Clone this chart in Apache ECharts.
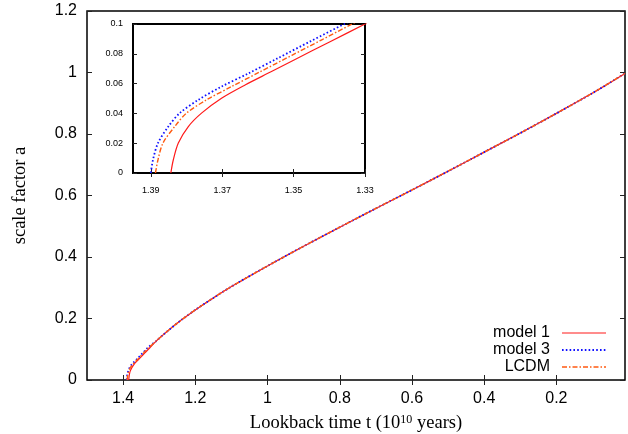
<!DOCTYPE html>
<html>
<head>
<meta charset="utf-8">
<script src="https://cdn.jsdelivr.net/npm/echarts@6/dist/echarts.min.js"></script>
<style>
  html, body { margin: 0; padding: 0; background: #fff; }
  #chart { width: 628px; height: 434px; }
</style>
</head>
<body>
<div id="chart"></div>
<script>
// early rise of each model
var m1Time = [1.3844, 1.3837, 1.3823, 1.3795, 1.3758, 1.3702, 1.3636, 1.3562, 1.3496, 1.3398, 1.33];
var m1Scale = [0, 0.0089, 0.0201, 0.0312, 0.0402, 0.0502, 0.0591, 0.0681, 0.0762, 0.0881, 0.1];
var m3Time = [1.39, 1.3894, 1.388, 1.3851, 1.3819, 1.3767, 1.3702, 1.3627, 1.3543, 1.3452, 1.3358, 1.33];
var m3Scale = [0, 0.0089, 0.0201, 0.0312, 0.0402, 0.0491, 0.058, 0.0668, 0.0772, 0.0885, 0.1, 0.1072];
var lcdmTime = [1.3887, 1.388, 1.3866, 1.3833, 1.38, 1.3744, 1.3674, 1.3594, 1.3505, 1.3421, 1.3336, 1.33];
var lcdmScale = [0, 0.0089, 0.0201, 0.0312, 0.0402, 0.0491, 0.058, 0.0679, 0.079, 0.0894, 0.1, 0.1044];

// after that the three curves sit on top of each other
var tailTime = [1.31, 1.29, 1.27, 1.24, 1.2, 1.15, 1.1, 1.0, 0.9, 0.8, 0.7, 0.6, 0.5, 0.4, 0.3, 0.2, 0.1, 0.01];
var tailScale = [0.125, 0.146, 0.166, 0.194, 0.228, 0.267, 0.304, 0.371, 0.435, 0.497, 0.558, 0.618, 0.679, 0.741, 0.803, 0.867, 0.933, 0.997];

var mainXTicks = [1.4, 1.2, 1.0, 0.8, 0.6, 0.4, 0.2];
var insetXTicks = [1.39, 1.37, 1.35, 1.33];
var names = ['model 1', 'model 3', 'LCDM'];

var SANS = 'Liberation Sans, Arial, sans-serif';
var SERIF = 'Liberation Serif, Times New Roman, serif';

function pairs(t, a) {
  return t.map(function (v, i) { return [v, a[i]]; });
}
var allData = [
  pairs(m1Time.concat(tailTime), m1Scale.concat(tailScale)),
  pairs(m3Time.concat(tailTime), m3Scale.concat(tailScale)),
  pairs(lcdmTime.concat(tailTime), lcdmScale.concat(tailScale))
];

var tickIn = { show: true, inside: true, length: 5, lineStyle: { color: '#222', width: 1 } };
var tickInSmall = { show: true, inside: true, length: 4, lineStyle: { color: '#222', width: 1 } };
function fmt1(v) { return String(+(+v).toFixed(2)); }

var looks = [
  { color: '#ff1a1a', type: 'solid', width: 1.2 },
  { color: '#1010ff', type: [1.6, 2.2], width: 1.8 },
  { color: '#ff5a10', type: [5, 2, 1.5, 2], width: 1.4 }
];

var series = [];
[0, 2].forEach(function (axisIdx) {
  looks.forEach(function (s, i) {
    series.push({
      name: names[i],
      type: 'line',
      xAxisIndex: axisIdx,
      yAxisIndex: axisIdx,
      data: allData[i],
      showSymbol: false,
      symbol: 'none',
      smooth: 0.3,
      clip: true,
      silent: true,
      lineStyle: { color: s.color, type: s.type, width: s.width },
      itemStyle: { color: s.color }
    });
  });
});

// key drawn by hand: text on the left, line sample on the right
var key = [];
names.forEach(function (n, i) {
  var y = 333 + i * 17;
  key.push({
    type: 'text', silent: true,
    style: { text: n, x: 550, y: y, align: 'right', verticalAlign: 'middle', font: '16px ' + SANS, fill: '#000' }
  });
  key.push({
    type: 'line', silent: true,
    shape: { x1: 562, y1: y, x2: 606, y2: y },
    style: { stroke: looks[i].color, lineWidth: looks[i].width, lineDash: looks[i].type === 'solid' ? null : looks[i].type }
  });
});

var chart = echarts.init(document.getElementById('chart'), null, { renderer: 'canvas' });
chart.setOption({
  animation: false,
  backgroundColor: '#fff',
  textStyle: { fontFamily: SANS },
  grid: [
    { left: 87, right: 3, top: 11, bottom: 54, outerBoundsMode: 'none', show: true, borderColor: '#000', borderWidth: 1.5, backgroundColor: 'transparent' },
    { left: 133, right: 263, top: 24, bottom: 261, outerBoundsMode: 'none', show: true, borderColor: '#000', borderWidth: 2, backgroundColor: '#fff' }
  ],
  graphic: key,
  xAxis: [
    {
      gridIndex: 0, type: 'value', inverse: true, min: 0.01, max: 1.5,
      axisLine: { show: false }, splitLine: { show: false },
      axisTick: Object.assign({ customValues: mainXTicks }, tickIn),
      axisLabel: { customValues: mainXTicks, formatter: fmt1, fontFamily: SANS, fontSize: 16, color: '#000', margin: 11 },
      name: 'Lookback time t (10{sup|10} years)',
      nameLocation: 'middle', nameGap: 34,
      nameTextStyle: {
        fontFamily: SERIF, fontSize: 18.5, color: '#000',
        rich: { sup: { fontFamily: SERIF, fontSize: 12, verticalAlign: 'top', color: '#000' } }
      }
    },
    {
      gridIndex: 0, type: 'value', inverse: true, min: 0.01, max: 1.5, position: 'top',
      axisLine: { show: false }, splitLine: { show: false },
      axisTick: Object.assign({ customValues: mainXTicks }, tickIn),
      axisLabel: { show: false, customValues: mainXTicks }
    },
    {
      gridIndex: 1, type: 'value', inverse: true, min: 1.33, max: 1.395,
      axisLine: { show: false }, splitLine: { show: false },
      axisTick: Object.assign({ customValues: insetXTicks }, tickInSmall),
      axisLabel: { customValues: insetXTicks, formatter: fmt1, fontFamily: SANS, fontSize: 9, color: '#000', margin: 13 }
    },
    {
      gridIndex: 1, type: 'value', inverse: true, min: 1.33, max: 1.395, position: 'top',
      axisLine: { show: false }, splitLine: { show: false },
      axisTick: Object.assign({ customValues: insetXTicks }, tickInSmall),
      axisLabel: { show: false, customValues: insetXTicks }
    }
  ],
  yAxis: [
    {
      gridIndex: 0, type: 'value', min: 0, max: 1.2, interval: 0.2,
      axisLine: { show: false }, splitLine: { show: false },
      axisTick: tickIn,
      axisLabel: { formatter: fmt1, fontFamily: SANS, fontSize: 16, color: '#000', margin: 10 },
      name: 'scale factor a', nameLocation: 'middle', nameGap: 57,
      nameTextStyle: { fontFamily: SERIF, fontSize: 18.5, color: '#000' }
    },
    {
      gridIndex: 0, type: 'value', min: 0, max: 1.2, interval: 0.2, position: 'right',
      axisLine: { show: false }, splitLine: { show: false },
      axisTick: tickIn, axisLabel: { show: false }
    },
    {
      gridIndex: 1, type: 'value', min: 0, max: 0.1, interval: 0.02,
      axisLine: { show: false }, splitLine: { show: false },
      axisTick: tickInSmall,
      axisLabel: { formatter: fmt1, fontFamily: SANS, fontSize: 9, color: '#000', margin: 10 }
    },
    {
      gridIndex: 1, type: 'value', min: 0, max: 0.1, interval: 0.02, position: 'right',
      axisLine: { show: false }, splitLine: { show: false },
      axisTick: tickInSmall, axisLabel: { show: false }
    }
  ],
  series: series
});
</script>
</body>
</html>
